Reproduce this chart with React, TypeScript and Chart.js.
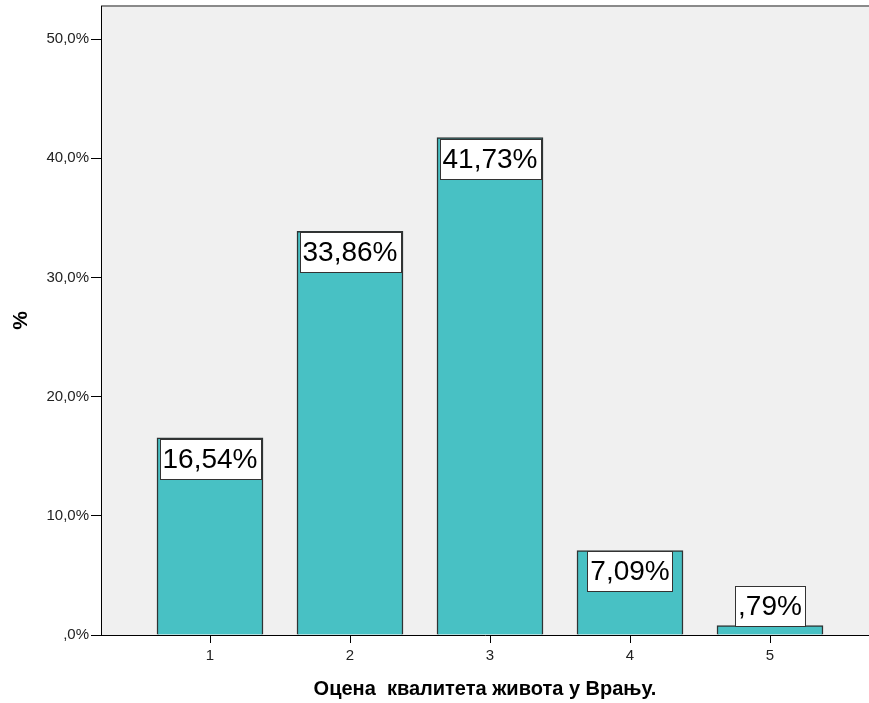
import React, { useEffect, useRef } from "react";
import { Chart, registerables } from "chart.js";

Chart.register(...registerables);

const categories = ["1", "2", "3", "4", "5"];
const percentValues = [16.54, 33.86, 41.73, 7.09, 0.79];
const valueLabels = ["16,54%", "33,86%", "41,73%", "7,09%", ",79%"];
const yTickValues = [0, 10, 20, 30, 40, 50];
const yTickLabels = [",0%", "10,0%", "20,0%", "30,0%", "40,0%", "50,0%"];
const xTitle = "Оцена  квалитета живота у Врању.";
const yTitle = "%";

const FONT = 'Arial, "Liberation Sans", sans-serif';

export default function App() {
  const ref = useRef<HTMLCanvasElement | null>(null);

  useEffect(() => {
    if (!ref.current) return;

    const bgPlugin = {
      id: "spssBg",
      beforeDraw(chart: any) {
        const { ctx, chartArea } = chart;
        const { left, top, right, bottom } = chartArea;
        ctx.save();
        ctx.fillStyle = "#ffffff";
        ctx.fillRect(0, 0, chart.width, chart.height);
        ctx.fillStyle = "#f0f0f0";
        ctx.fillRect(left, top, right - left, bottom - top);
        ctx.strokeStyle = "#8a8a8a";
        ctx.lineWidth = 2;
        ctx.beginPath();
        ctx.moveTo(left, top);
        ctx.lineTo(right, top);
        ctx.stroke();
        ctx.restore();
      },
      afterDatasetsDraw(chart: any) {
        const { ctx } = chart;
        const meta = chart.getDatasetMeta(0);
        ctx.save();
        ctx.font = "28px " + FONT;
        meta.data.forEach((bar: any, i: number) => {
          const { x, y, base } = bar.getProps(["x", "y", "base"], true);
          const text = valueLabels[i];
          const w = ctx.measureText(text).width + 6;
          const h = 40;
          const top = base - y >= h ? y + 1 : y - h;
          const left = Math.round(x - w / 2) + 0.5;
          const t = Math.round(top) + 0.5;
          ctx.fillStyle = "#ffffff";
          ctx.fillRect(left, t, Math.round(w), h);
          ctx.strokeStyle = "#333333";
          ctx.lineWidth = 1;
          ctx.strokeRect(left, t, Math.round(w), h);
          ctx.fillStyle = "#000000";
          ctx.textAlign = "center";
          ctx.textBaseline = "middle";
          ctx.fillText(text, x, t + h / 2 + 1);
        });
        ctx.restore();
      },
    };

    const chart = new Chart(ref.current, {
      type: "bar",
      data: {
        datasets: [
          {
            data: categories.map((c, i) => ({ x: i + 1, y: percentValues[i] })),
            backgroundColor: "#48c1c4",
            borderColor: "#2e3434",
            borderWidth: 1.5,
            barThickness: 106,
          } as any,
        ],
      },
      options: {
        responsive: false,
        animation: false,
        devicePixelRatio: 1,
        layout: { padding: { top: 6, left: 0, right: 0, bottom: 0 } },
        plugins: {
          legend: { display: false },
          tooltip: { enabled: false },
        },
        scales: {
          x: {
            type: "linear",
            min: 1 - 109 / 140,
            max: 1 - 109 / 140 + 768 / 140,
            offset: false,
            grid: {
              offset: false,
              drawOnChartArea: false,
              tickLength: 8,
              color: "#000000",
            },
            border: { color: "#000000", width: 1 },
            afterBuildTicks: (s: any) => {
              s.ticks = categories.map((_, i) => ({ value: i + 1 }));
            },
            afterFit: (s: any) => {
              s.height = 68;
              s.paddingLeft = 0;
              s.paddingRight = 0;
            },
            ticks: {
              autoSkip: false,
              maxRotation: 0,
              padding: 4,
              color: "#222222",
              font: { size: 15, family: FONT },
              callback: (v: any) => categories[Math.round(Number(v)) - 1] ?? "",
            },
            title: {
              display: true,
              text: xTitle,
              color: "#000000",
              font: { size: 20, weight: "bold", family: FONT },
              padding: { top: 0, bottom: 2 },
            },
          },
          y: {
            type: "linear",
            min: 0,
            max: 52.77,
            grid: {
              drawOnChartArea: false,
              tickLength: 10,
              color: "#000000",
            },
            border: { color: "#000000", width: 1 },
            afterBuildTicks: (s: any) => {
              s.ticks = yTickValues.map((v) => ({ value: v }));
            },
            afterFit: (s: any) => {
              s.width = 101;
              s.paddingTop = 0;
              s.paddingBottom = 0;
            },
            ticks: {
              padding: 2,
              color: "#222222",
              font: { size: 15, family: FONT },
              callback: (v: any) => {
                const idx = yTickValues.indexOf(Number(v));
                return idx >= 0 ? yTickLabels[idx] : "";
              },
            },
            title: {
              display: true,
              text: yTitle,
              color: "#000000",
              font: { size: 21, weight: "bold", family: FONT },
              padding: { top: 9, bottom: 0 },
            },
          },
        },
      } as any,
      plugins: [bgPlugin],
    });

    return () => chart.destroy();
  }, []);

  return (
    <div style={{ position: "absolute", left: 0, top: 0, width: 869, height: 703 }}>
      <canvas ref={ref} width={869} height={703} style={{ display: "block" }} />
    </div>
  );
}
